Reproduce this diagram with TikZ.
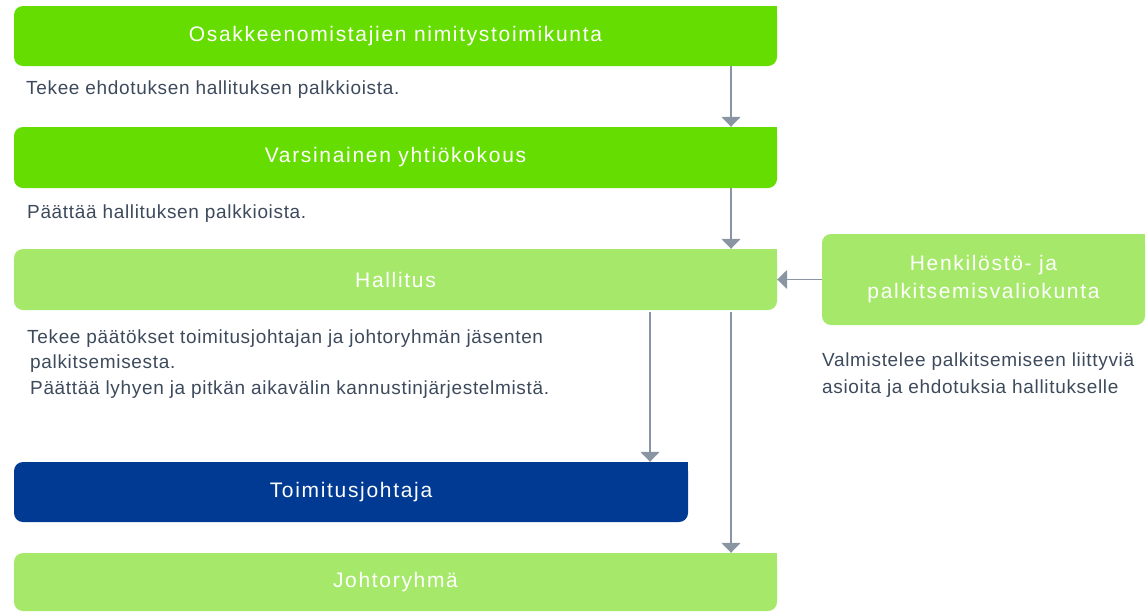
\documentclass[tikz,border=0pt]{standalone}
\usepackage{fontspec}
\setmainfont{Liberation Sans}
\newfontfamily\titlefont[LetterSpace=8]{Liberation Sans}
\newfontfamily\descfont[LetterSpace=3.5]{Liberation Sans}
\usetikzlibrary{arrows.meta}
\definecolor{brightgreen}{HTML}{66DD00}
\definecolor{lightgreen}{HTML}{A6E96A}
\definecolor{navyblue}{HTML}{003A93}
\definecolor{arrowgray}{HTML}{8A95A4}
\definecolor{descgray}{HTML}{3D4A5C}
\tikzset{
  box/.style={rounded corners=9pt, inner sep=0pt, text=white, align=center,
    font=\titlefont\fontsize{21}{28}\selectfont},
  arr/.style={draw=arrowgray, line width=1.5pt, -{Triangle[width=19pt,length=10pt]}},
  desc/.style={anchor=base west, inner sep=0pt, text=descgray,
    font=\descfont\fontsize{19}{25}\selectfont},
}
\begin{document}
\begin{tikzpicture}[x=1pt,y=-1pt]
\useasboundingbox (0,0) rectangle (1146,611);
% boxes
\node[box, fill=brightgreen, minimum width=763pt, minimum height=60pt] (b1) at (395.5,36) {Osakkeenomistajien nimitystoimikunta};
\node[box, fill=brightgreen, minimum width=763pt, minimum height=61pt] (b2) at (395.5,157.5) {Varsinainen yhtiökokous};
\node[box, fill=lightgreen, minimum width=763pt, minimum height=61pt] (hall) at (395.5,279.5) {Hallitus};
\node[box, fill=lightgreen, minimum width=323pt, minimum height=91pt] (henk) at (983.5,279.5) {Henkilöstö- ja\\palkitsemisvaliokunta};
\node[box, fill=navyblue, minimum width=674pt, minimum height=60pt] (toim) at (351,492) {Toimitusjohtaja};
\node[box, fill=lightgreen, minimum width=763pt, minimum height=58pt] (johto) at (395.5,582) {Johtoryhmä};
% square top-right corners
\fill[brightgreen] (b1.north east) rectangle ++(-12,12);
\fill[brightgreen] (b2.north east) rectangle ++(-12,12);
\fill[lightgreen] (hall.north east) rectangle ++(-12,12);
\fill[lightgreen] (henk.north east) rectangle ++(-12,12);
\fill[navyblue] (toim.north east) rectangle ++(-12,12);
\fill[lightgreen] (johto.north east) rectangle ++(-12,12);
% descriptions
\node[desc] (d1) at (26,94) {Tekee ehdotuksen hallituksen palkkioista.};
\node[desc] (d2) at (27,218) {Päättää hallituksen palkkioista.};
\node[desc] (d3a) at (27,343) {Tekee päätökset toimitusjohtajan ja johtoryhmän jäsenten};
\node[desc] (d3b) at (30,368) {palkitsemisesta.};
\node[desc] (d3c) at (30,394) {Päättää lyhyen ja pitkän aikavälin kannustinjärjestelmistä.};
\node[desc] (d4a) at (822,366) {Valmistelee palkitsemiseen liittyviä};
\node[desc] (d4b) at (822,393) {asioita ja ehdotuksia hallitukselle};
% connectors
\coordinate (ax) at (731,0);
\coordinate (bx) at (650,0);
\draw[arr] (b1.south -| ax) -- (b2.north -| ax);
\draw[arr] (b2.south -| ax) -- (hall.north -| ax);
\draw[arr] (henk.west) -- (hall.east);
\draw[arr, shorten <=2pt] (hall.south -| bx) -- (toim.north -| bx);
\draw[arr, shorten <=2pt] (hall.south -| ax) -- (johto.north -| ax);
\end{tikzpicture}
\end{document}
